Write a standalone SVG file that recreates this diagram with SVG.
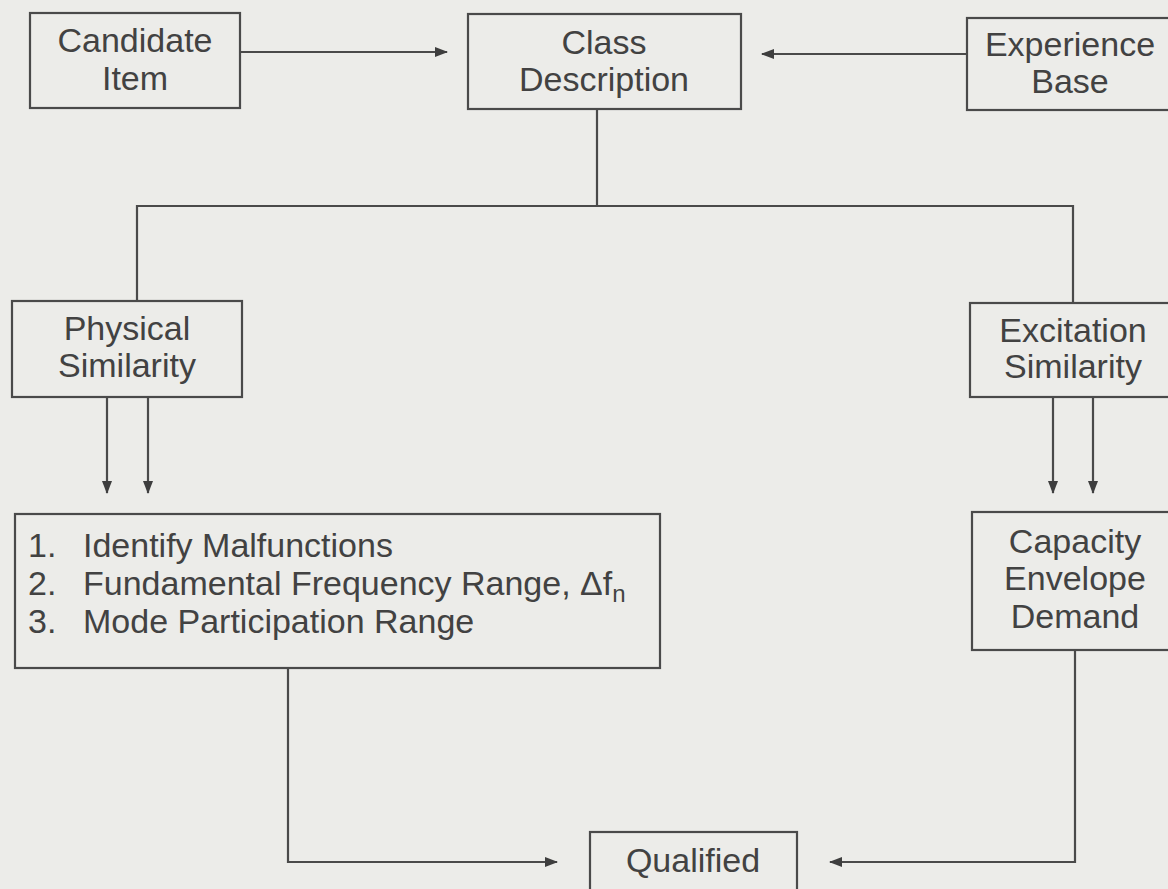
<svg xmlns="http://www.w3.org/2000/svg" width="1168" height="889" viewBox="0 0 1168 889">
<defs>
<style>
.box{fill:none;stroke:#4a4a4a;stroke-width:2.2}
.t{font-family:"Liberation Sans",Arial,sans-serif;font-size:34px;fill:#424242;text-anchor:middle}
.tl{font-family:"Liberation Sans",Arial,sans-serif;font-size:34px;fill:#424242}
.c{fill:none;stroke:#4a4a4a;stroke-width:2.2}
</style>
<marker id="ah" markerUnits="userSpaceOnUse" markerWidth="13" markerHeight="10" refX="12" refY="5" orient="auto">
<path d="M0,0 L13,5 L0,10 Z" fill="#3e3e3e"/>
</marker>
</defs>
<rect width="1168" height="889" fill="#ecece9"/>
<g id="connectors">
<line class="c" x1="240" y1="52" x2="447" y2="52" marker-end="url(#ah)"/>
<line class="c" x1="967" y1="54" x2="762" y2="54" marker-end="url(#ah)"/>
<polyline class="c" points="597,109 597,206"/>
<polyline class="c" points="137,301 137,206 1073,206 1073,303"/>
<line class="c" x1="107" y1="397" x2="107" y2="493" marker-end="url(#ah)"/>
<line class="c" x1="148" y1="397" x2="148" y2="493" marker-end="url(#ah)"/>
<line class="c" x1="1053" y1="397" x2="1053" y2="493" marker-end="url(#ah)"/>
<line class="c" x1="1093" y1="397" x2="1093" y2="493" marker-end="url(#ah)"/>
<polyline class="c" points="288,668 288,862 557,862" marker-end="url(#ah)"/>
<polyline class="c" points="1075,650 1075,862 830,862" marker-end="url(#ah)"/>
</g>
<g id="candidate-item">
<rect class="box" x="30" y="13" width="210" height="95"/>
<text class="t" x="135" y="52">Candidate</text>
<text class="t" x="135" y="90">Item</text>
</g>
<g id="class-description">
<rect class="box" x="468" y="14" width="273" height="95"/>
<text class="t" x="604" y="54">Class</text>
<text class="t" x="604" y="91">Description</text>
</g>
<g id="experience-base">
<rect class="box" x="967" y="18" width="210" height="92"/>
<text class="t" x="1070" y="56">Experience</text>
<text class="t" x="1070" y="93">Base</text>
</g>
<g id="physical-similarity">
<rect class="box" x="12" y="301" width="230" height="96"/>
<text class="t" x="127" y="340">Physical</text>
<text class="t" x="127" y="377">Similarity</text>
</g>
<g id="excitation-similarity">
<rect class="box" x="970" y="303" width="208" height="94"/>
<text class="t" x="1073" y="342">Excitation</text>
<text class="t" x="1073" y="378">Similarity</text>
</g>
<g id="physical-steps">
<rect class="box" x="15" y="514" width="645" height="154"/>
<text class="tl" x="28" y="557">1.</text>
<text class="tl" x="83" y="557">Identify Malfunctions</text>
<text class="tl" x="28" y="595">2.</text>
<text class="tl" x="83" y="595">Fundamental Frequency Range, Δf<tspan font-size="24" dy="7">n</tspan></text>
<text class="tl" x="28" y="633">3.</text>
<text class="tl" x="83" y="633">Mode Participation Range</text>
</g>
<g id="capacity-envelope-demand">
<rect class="box" x="972" y="512" width="206" height="138"/>
<text class="t" x="1075" y="553">Capacity</text>
<text class="t" x="1075" y="590">Envelope</text>
<text class="t" x="1075" y="628">Demand</text>
</g>
<g id="qualified">
<rect class="box" x="590" y="832" width="207" height="70"/>
<text class="t" x="693" y="872">Qualified</text>
</g>
</svg>
